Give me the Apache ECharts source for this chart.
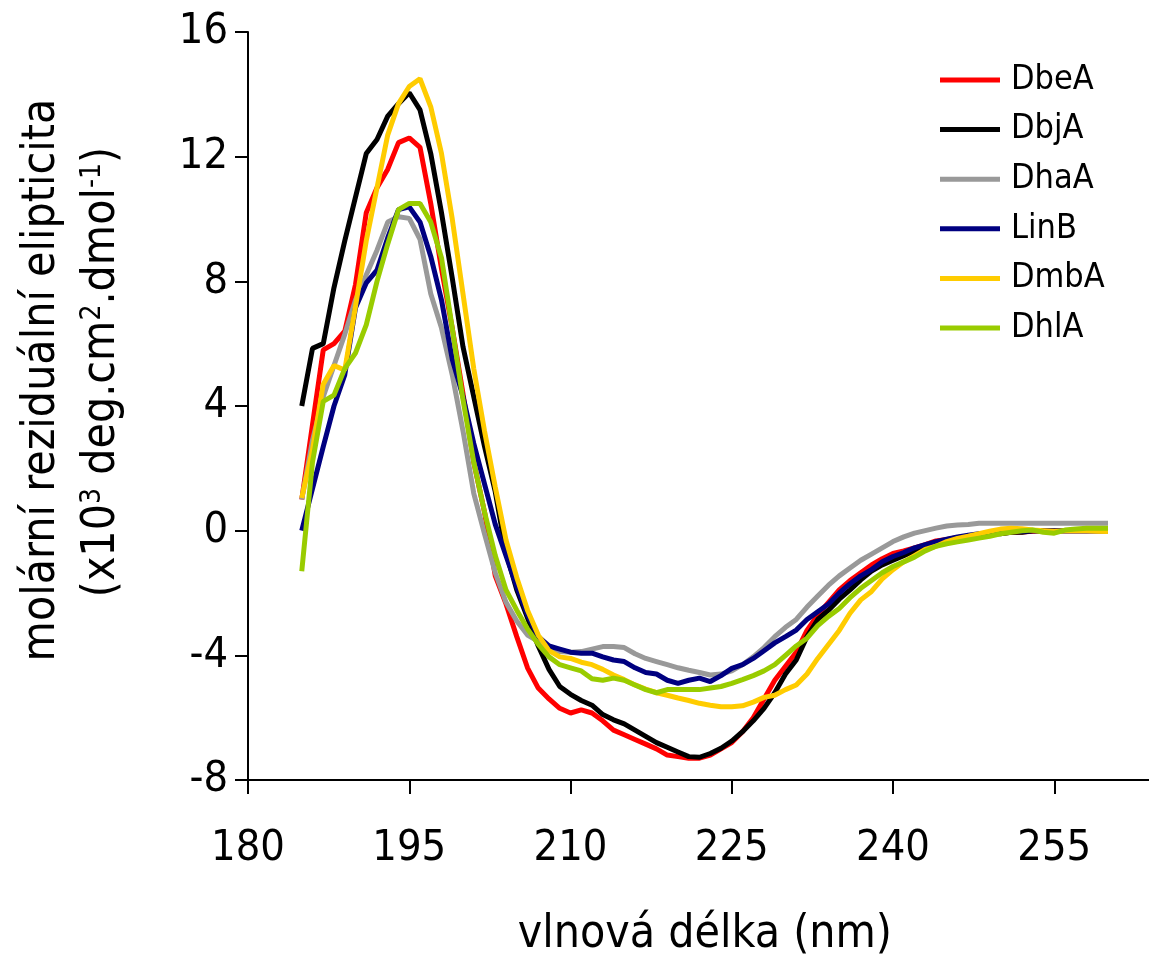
<!DOCTYPE html>
<html>
<head>
<meta charset="utf-8">
<script src="https://cdn.jsdelivr.net/npm/echarts@6/dist/echarts.min.js"></script>
<style>html,body{margin:0;padding:0;background:#fff}#c{width:1149px;height:956px}</style>
</head>
<body>
<div id="c"></div>
<script>
var wavelengths = [185,186,187,188,189,190,191,192,193,194,195,196,197,198,199,200,201,202,203,204,205,206,207,208,209,210,211,212,213,214,215,216,217,218,219,220,221,222,223,224,225,226,227,228,229,230,231,232,233,234,235,236,237,238,239,240,241,242,243,244,245,246,247,248,249,250,251,252,253,254,255,256,257,258,259,260];

var DbeA = [1.0,3.4,5.8,6.0,6.4,7.9,10.2,11.0,11.6,12.45,12.6,12.3,10.5,8.4,6.5,4.4,2.2,0.6,-1.45,-2.35,-3.4,-4.4,-5.05,-5.4,-5.7,-5.85,-5.75,-5.85,-6.1,-6.4,-6.55,-6.7,-6.85,-7.0,-7.2,-7.25,-7.3,-7.3,-7.2,-7.0,-6.8,-6.45,-6.0,-5.4,-4.8,-4.35,-3.9,-3.2,-2.7,-2.3,-1.9,-1.6,-1.35,-1.1,-0.9,-0.73,-0.65,-0.55,-0.45,-0.33,-0.28,-0.22,-0.18,-0.14,-0.1,-0.08,-0.05,-0.04,-0.02,0,0,0,0,0,0,0];

var DbjA = [4.0,5.85,6.0,7.8,9.3,10.7,12.1,12.55,13.3,13.7,14.05,13.5,12.1,10.2,8.1,5.9,4.3,2.7,1.25,-0.7,-1.9,-2.8,-3.7,-4.45,-5.0,-5.25,-5.45,-5.6,-5.9,-6.07,-6.2,-6.4,-6.6,-6.8,-6.95,-7.1,-7.25,-7.27,-7.15,-6.98,-6.75,-6.45,-6.1,-5.7,-5.2,-4.6,-4.15,-3.4,-2.85,-2.55,-2.2,-1.9,-1.58,-1.3,-1.1,-0.95,-0.8,-0.65,-0.52,-0.4,-0.3,-0.25,-0.2,-0.15,-0.1,-0.1,-0.05,-0.05,0,0,0,0,0,0,0,0];

var DhaA = [1.0,2.9,4.3,5.3,6.3,7.4,8.2,9.0,9.9,10.07,10.02,9.35,7.6,6.5,5.0,3.2,1.2,-0.1,-1.35,-2.3,-2.9,-3.35,-3.55,-3.75,-3.88,-3.9,-3.88,-3.8,-3.72,-3.72,-3.75,-3.95,-4.1,-4.2,-4.3,-4.4,-4.48,-4.55,-4.63,-4.6,-4.5,-4.3,-4.05,-3.75,-3.4,-3.1,-2.85,-2.45,-2.1,-1.75,-1.45,-1.2,-0.95,-0.75,-0.55,-0.35,-0.2,-0.08,0.0,0.08,0.15,0.18,0.2,0.24,0.24,0.24,0.24,0.24,0.24,0.24,0.24,0.24,0.24,0.24,0.24,0.24];

var LinB = [0,1.35,2.7,4.0,5.0,7.15,7.95,8.36,9.4,10.3,10.39,9.9,8.8,7.4,5.5,4.3,2.8,1.5,0.2,-0.8,-1.8,-2.7,-3.4,-3.7,-3.8,-3.9,-3.93,-3.93,-4.05,-4.15,-4.2,-4.4,-4.55,-4.6,-4.8,-4.9,-4.8,-4.73,-4.84,-4.65,-4.42,-4.3,-4.1,-3.85,-3.6,-3.4,-3.19,-2.85,-2.6,-2.35,-2.0,-1.7,-1.45,-1.25,-1.0,-0.83,-0.7,-0.55,-0.45,-0.35,-0.27,-0.2,-0.15,-0.1,-0.08,-0.05,-0.03,-0.02,0,0,0,0,0,0,0,0];

var DmbA = [1.05,2.6,4.7,5.3,5.15,7.2,9.3,11.0,12.7,13.7,14.25,14.5,13.6,12.1,10.0,7.6,5.2,3.2,1.4,-0.3,-1.5,-2.55,-3.35,-3.85,-4.05,-4.1,-4.22,-4.3,-4.45,-4.63,-4.78,-4.95,-5.08,-5.2,-5.28,-5.37,-5.45,-5.54,-5.6,-5.65,-5.65,-5.62,-5.5,-5.35,-5.28,-5.1,-4.95,-4.6,-4.1,-3.65,-3.2,-2.65,-2.22,-1.95,-1.55,-1.25,-1.0,-0.8,-0.6,-0.5,-0.35,-0.25,-0.18,-0.1,-0.02,0.05,0.08,0.06,0.02,0,-0.02,0,0,0,-0.02,-0.03];

var DhlA = [-1.3,2.2,4.15,4.35,5.2,5.7,6.6,8.0,9.2,10.3,10.5,10.5,9.9,8.75,6.5,4.2,2.2,0.6,-0.8,-1.9,-2.55,-3.15,-3.65,-4.05,-4.3,-4.4,-4.5,-4.75,-4.8,-4.73,-4.8,-4.95,-5.1,-5.2,-5.1,-5.1,-5.1,-5.1,-5.05,-5.0,-4.9,-4.78,-4.65,-4.5,-4.3,-4.0,-3.7,-3.45,-3.05,-2.75,-2.5,-2.15,-1.85,-1.6,-1.35,-1.15,-1.0,-0.85,-0.65,-0.5,-0.42,-0.36,-0.3,-0.24,-0.18,-0.1,-0.05,0,0.02,-0.05,-0.08,0.02,0.05,0.08,0.08,0.08];

var seriesNames = ['DbeA','DbjA','DhaA','LinB','DmbA','DhlA'];
var seriesValues = [DbeA, DbjA, DhaA, LinB, DmbA, DhlA];
var seriesColors = ['#ff0000','#000000','#999999','#000080','#ffcc00','#99cc00'];

var xTicks = [180,195,210,225,240,255];
var yTicks = [-8,-4,0,4,8,12,16];

var FONT = '"DejaVu Sans Condensed","DejaVu Sans",sans-serif';

var chart = echarts.init(document.getElementById('c'), null, {renderer:'canvas'});

var series = seriesNames.map(function(n, i){
  return {
    name: n,
    type: 'line',
    symbol: 'none',
    smooth: false,
    data: wavelengths.map(function(w, j){ return [w, seriesValues[i][j]]; }),
    lineStyle: {color: seriesColors[i], width: 5},
    itemStyle: {color: seriesColors[i]},
    z: 2 + i
  };
});

chart.setOption({
  animation: false,
  backgroundColor: '#ffffff',
  grid: {left: 248, top: 32, width: 913.75, height: 748, containLabel: false, outerBoundsMode: 'none'},
  xAxis: {
    type: 'value', min: 180, max: 265, interval: 15,
    name: 'vlnová délka (nm)', nameLocation: 'middle', nameGap: 132,
    nameTextStyle: {fontFamily: FONT, fontSize: 46, color: '#000'},
    axisLine: {show: true, onZero: false, lineStyle: {color: '#000', width: 2}},
    axisTick: {show: true, inside: false, length: 14, lineStyle: {color: '#000', width: 2}},
    axisLabel: {fontFamily: FONT, fontSize: 43, color: '#000', margin: 47,
      formatter: function(v){ return xTicks.indexOf(v) >= 0 ? String(v) : ''; }},
    splitLine: {show: false}
  },
  yAxis: {
    type: 'value', min: -8, max: 16, interval: 4,
    axisLine: {show: true, onZero: false, lineStyle: {color: '#000', width: 2}},
    axisTick: {show: true, inside: false, length: 13, lineStyle: {color: '#000', width: 2}},
    axisLabel: {fontFamily: FONT, fontSize: 43, color: '#000', margin: 20,
      formatter: function(v){ return yTicks.indexOf(v) >= 0 ? String(v) : ''; }},
    splitLine: {show: false}
  },
  legend: {
    orient: 'vertical', left: 940, top: 63, padding: 0,
    icon: 'rect',
    itemWidth: 60, itemHeight: 5, itemGap: 15.6,
    textStyle: {fontFamily: FONT, fontSize: 34, color: '#000', lineHeight: 30, padding: [0,0,0,6]},
    data: seriesNames
  },
  graphic: [
    {type: 'text', x: 42, y: 380, rotation: Math.PI/2,
      style: {text: 'molární reziduální elipticita', font: '46px ' + FONT, fill: '#000', textAlign: 'center', textVerticalAlign: 'middle'}},
    {type: 'text', x: 102, y: 372, rotation: Math.PI/2,
      style: {text: '(x10{sup|3} deg.cm{sup|2}.dmol{sup|-1})', fontFamily: FONT, fontSize: 46, fill: '#000', align: 'center', verticalAlign: 'middle',
        rich: {sup: {fontFamily: FONT, fontSize: 28, verticalAlign: 'top', lineHeight: 46, padding: [0,0,16,0]}}}}
  ],
  series: series
});
</script>
</body>
</html>
